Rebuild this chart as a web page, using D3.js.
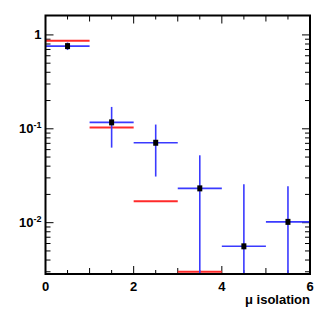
<!DOCTYPE html>
<head>
<meta charset="UTF-8">
<title>mu isolation</title>
<style>
body { margin: 0; background: #fff; }
text { font-family: "Liberation Sans Narrow", "Liberation Sans", Arial, sans-serif; font-weight: bold; fill: #000; }
</style>
</head>
<body>
<script src="https://cdn.jsdelivr.net/npm/d3@7/dist/d3.min.js"></script>
<script>

// bin centres (half width 0.5)
var binCenters = [0.5, 1.5, 2.5, 3.5, 4.5, 5.5];
// data points (black squares, blue error bars)
var dataValues = [0.76, 0.117, 0.071, 0.0232, 0.0056, 0.0102];
var dataErrors = [0.07, 0.054, 0.040, 0.029, 0.020, 0.0142];
// red histogram (null = empty bin)
var mcValues = [0.865, 0.103, 0.0169, 0.0030, null, null];

var xTickLabels = [0, 2, 4, 6];
var yDecades = [1, 0.1, 0.01];

var margin = {top: 15.5, right: 17, bottom: 53, left: 45.5},
    width = 327 - margin.left - margin.right,
    height = 327 - margin.top - margin.bottom;

var svg = d3.select("body").append("svg")
    .attr("width", 327)
    .attr("height", 327)
  .append("g")
    .attr("transform", "translate(" + margin.left + "," + margin.top + ")");

var x = d3.scaleLinear().domain([0, 6]).range([0, width]);
var y = d3.scaleLog().domain([0.00284, 1.61]).range([height, 0]);

// tick marks, drawn by hand like ROOT does (all four sides)
var ticks = svg.append("g").attr("stroke", "#000").attr("stroke-width", 1);
d3.range(0, 6.01, 0.5).forEach(function(v) {
  var len = (v % 2 === 0) ? 8 : (v % 1 === 0 ? 6 : 4);
  ticks.append("line").attr("x1", x(v)).attr("x2", x(v)).attr("y1", height).attr("y2", height - len);
  ticks.append("line").attr("x1", x(v)).attr("x2", x(v)).attr("y1", 0).attr("y2", len);
});
[0.001, 0.01, 0.1, 1].forEach(function(dec) {
  for (var k = 1; k < 10; k++) {
    var v = dec * k;
    if (v < y.domain()[0] || v > y.domain()[1]) continue;
    var len = k === 1 ? 8 : 5;
    ticks.append("line").attr("x1", 0).attr("x2", len).attr("y1", y(v)).attr("y2", y(v));
    ticks.append("line").attr("x1", width).attr("x2", width - len).attr("y1", y(v)).attr("y2", y(v));
  }
});

// x labels
svg.selectAll(".xlab").data(xTickLabels).enter().append("text")
    .attr("class", "xlab")
    .attr("x", function(d) { return x(d); })
    .attr("y", height + 17)
    .attr("text-anchor", "middle")
    .style("font-size", "13px")
    .text(function(d) { return d; });

// y labels
yDecades.forEach(function(v) {
  var t = svg.append("text")
      .attr("x", -4)
      .attr("y", y(v) + 4.5)
      .attr("text-anchor", "end")
      .style("font-size", "13px");
  if (v === 1) {
    t.text("1");
  } else {
    t.append("tspan").text("10");
    t.append("tspan").attr("dy", -5).style("font-size", "9px").text("-" + Math.round(-Math.log10(v)));
  }
});

svg.append("text")
    .attr("x", width)
    .attr("y", height + 30)
    .attr("text-anchor", "end")
    .style("font-size", "13px")
    .text("\u03bc isolation");

// red histogram segments
mcValues.forEach(function(v, i) {
  if (v === null) return;
  svg.append("line")
      .attr("x1", x(binCenters[i] - 0.5)).attr("x2", x(binCenters[i] + 0.5))
      .attr("y1", y(v)).attr("y2", y(v))
      .attr("stroke", "#ff2a2a").attr("stroke-width", 2);
});

// data error bars
var lo = y.domain()[0];
binCenters.forEach(function(c, i) {
  var v = dataValues[i], e = dataErrors[i];
  svg.append("line")
      .attr("x1", x(c - 0.5)).attr("x2", x(c + 0.5))
      .attr("y1", y(v)).attr("y2", y(v))
      .attr("stroke", "#3a3aff").attr("stroke-width", 1.6);
  svg.append("line")
      .attr("x1", x(c)).attr("x2", x(c))
      .attr("y1", y(v + e)).attr("y2", y(Math.max(v - e, lo)))
      .attr("stroke", "#3a3aff").attr("stroke-width", 1.6);
});

// markers
svg.selectAll(".pt").data(binCenters).enter().append("rect")
    .attr("class", "pt")
    .attr("x", function(d) { return x(d) - 2.5; })
    .attr("y", function(d, i) { return y(dataValues[i]) - 3; })
    .attr("width", 5).attr("height", 6)
    .attr("fill", "#000");

// frame
svg.append("rect")
    .attr("width", width).attr("height", height)
    .attr("fill", "none").attr("stroke", "#000").attr("stroke-width", 2);

</script>
</body>
